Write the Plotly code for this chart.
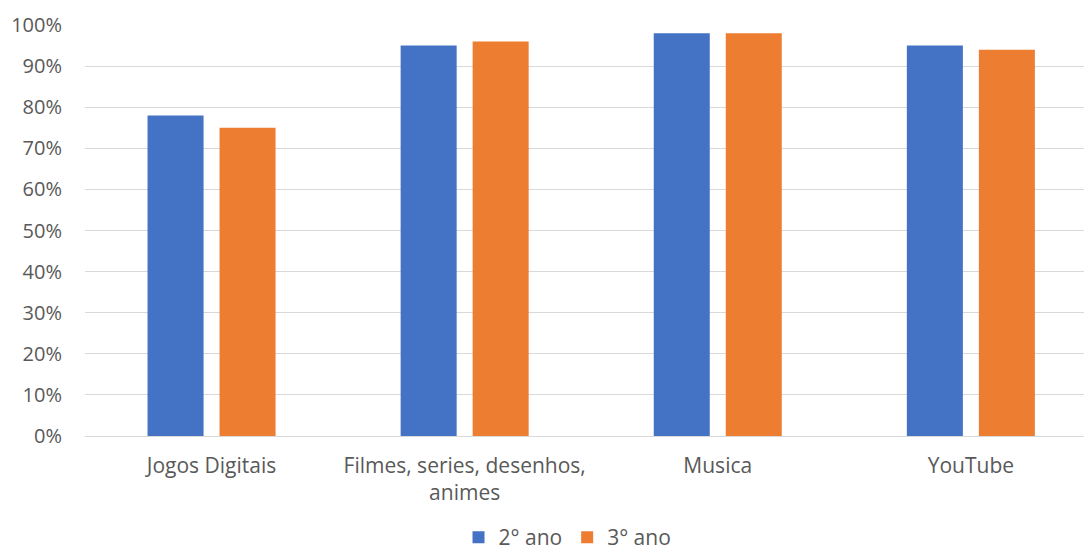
import plotly.graph_objects as go

categories = ["Jogos Digitais", "Filmes, series, desenhos,<br>animes", "Musica", "YouTube"]
serie_2ano = [0.78, 0.95, 0.98, 0.95]
serie_3ano = [0.75, 0.96, 0.98, 0.94]
series_names = ["2° ano", "3° ano"]
colors = ["#4472C4", "#ED7D31"]

fig = go.Figure()
for name, vals, col in zip(series_names, [serie_2ano, serie_3ano], colors):
    fig.add_trace(go.Bar(x=categories, y=vals, name=name, marker=dict(color=col, line=dict(width=0))))

font_fam = "Open Sans, Noto Sans, sans-serif"
fig.update_layout(
    width=1084, height=558,
    margin=dict(l=85, r=0, t=25, b=122, autoexpand=False),
    plot_bgcolor="white", paper_bgcolor="white",
    barmode="group", bargap=0.431, bargroupgap=0.222,
    font=dict(family=font_fam, size=20, color="#595959"),
    xaxis=dict(range=[-0.5, 3.447], showgrid=False, showline=False, ticks="",
               automargin=False,
               tickfont=dict(size=21, color="#595959"), ticklabelstandoff=15),
    yaxis=dict(range=[0, 1], tickvals=[i / 10 for i in range(11)], tickformat=".0%",
               automargin=False,
               showgrid=True, gridcolor="#d9d9d9", gridwidth=1, zeroline=True,
               zerolinecolor="#d9d9d9", zerolinewidth=1, showline=False,
               tickfont=dict(size=20, color="#595959"), ticklabelstandoff=22),
    legend=dict(orientation="h", x=0.483, xanchor="center", y=0, yref="container",
                yanchor="bottom",
                font=dict(size=21, color="#595959"), itemwidth=30, traceorder="normal"),
    showlegend=True,
)
fig.write_html("out.html")
